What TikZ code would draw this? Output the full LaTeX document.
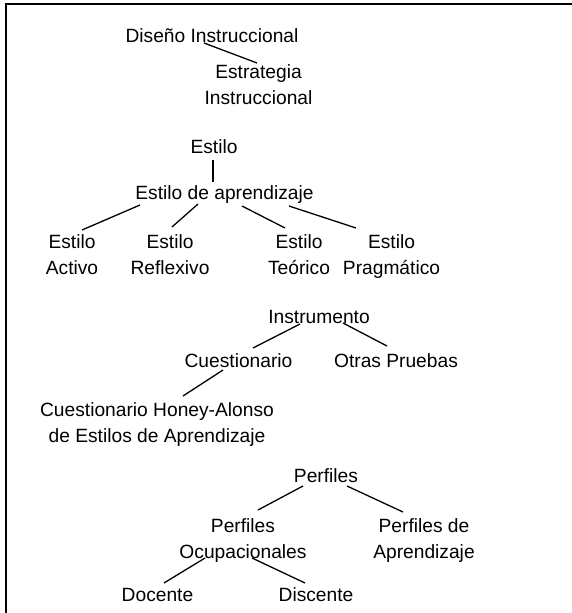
\documentclass[tikz,border=0pt]{standalone}
\usepackage{fontspec}
\setmainfont{Liberation Sans}
\begin{document}
\begin{tikzpicture}[x=1pt,y=-1pt,
  lbl/.style={inner sep=0pt, anchor=base, align=center, font=\fontsize{19.2}{26}\selectfont},
  conn/.style={line width=1.3pt},
  frame/.style={line width=2pt}]
\useasboundingbox (0,0) rectangle (572,613);
\draw[frame] (6,613) -- (6,4) -- (572,4);
% nodes (two-line nodes: position = baseline of last line)
\node[lbl] (dis) at (212,42) {Diseño Instruccional};
\node[lbl] (est) at (258.5,104) {Estrategia\\Instruccional};
\node[lbl] (estilo) at (214,153) {Estilo};
\node[lbl] (apr) at (224.5,199) {Estilo de aprendizaje};
\node[lbl] (act) at (72,274) {Estilo\\Activo};
\node[lbl] (ref) at (170,274) {Estilo\\Reflexivo};
\node[lbl] (teo) at (299,274) {Estilo\\Teórico};
\node[lbl] (pra) at (391.5,274) {Estilo\\Pragmático};
\node[lbl] (ins) at (319,323) {Instrumento};
\node[lbl] (cue) at (238.5,367) {Cuestionario};
\node[lbl] (otr) at (396,367) {Otras Pruebas};
\node[lbl] (hon) at (157,442) {Cuestionario Honey-Alonso\\de Estilos de Aprendizaje};
\node[lbl] (per) at (326,482) {Perfiles};
\node[lbl] (ocu) at (243,558) {Perfiles\\Ocupacionales};
\node[lbl] (pap) at (424,558) {Perfiles de\\Aprendizaje};
\node[lbl] (doc) at (157.5,601) {Docente};
\node[lbl] (dsc) at (316,601) {Discente};
% connector end points
\coordinate (dis-o) at (204,43);   \coordinate (est-i) at (257,63);
\coordinate (estilo-o) at (213,160); \coordinate (apr-i) at (213,182);
\coordinate (apr-o1) at (140,205); \coordinate (act-i) at (82,230);
\coordinate (apr-o2) at (198,204); \coordinate (ref-i) at (172,227);
\coordinate (apr-o3) at (242,206); \coordinate (teo-i) at (285,228);
\coordinate (apr-o4) at (289,206); \coordinate (pra-i) at (356,228);
\coordinate (ins-o1) at (300,324); \coordinate (cue-i) at (253,348);
\coordinate (ins-o2) at (343,323); \coordinate (otr-i) at (387,346);
\coordinate (cue-o) at (223,370);  \coordinate (hon-i) at (183,396);
\coordinate (per-o1) at (303,486); \coordinate (ocu-i) at (258,510);
\coordinate (per-o2) at (347,486); \coordinate (pap-i) at (403,512);
\coordinate (ocu-o1) at (205,558); \coordinate (doc-i) at (164,583);
\coordinate (ocu-o2) at (252,558); \coordinate (dsc-i) at (305,583);
% connectors
\draw[conn] (dis-o) -- (est-i);
\draw[conn] (estilo-o) -- (apr-i);
\draw[conn] (apr-o1) -- (act-i);
\draw[conn] (apr-o2) -- (ref-i);
\draw[conn] (apr-o3) -- (teo-i);
\draw[conn] (apr-o4) -- (pra-i);
\draw[conn] (ins-o1) -- (cue-i);
\draw[conn] (ins-o2) -- (otr-i);
\draw[conn] (cue-o) -- (hon-i);
\draw[conn] (per-o1) -- (ocu-i);
\draw[conn] (per-o2) -- (pap-i);
\draw[conn] (ocu-o1) -- (doc-i);
\draw[conn] (ocu-o2) -- (dsc-i);
\end{tikzpicture}
\end{document}
